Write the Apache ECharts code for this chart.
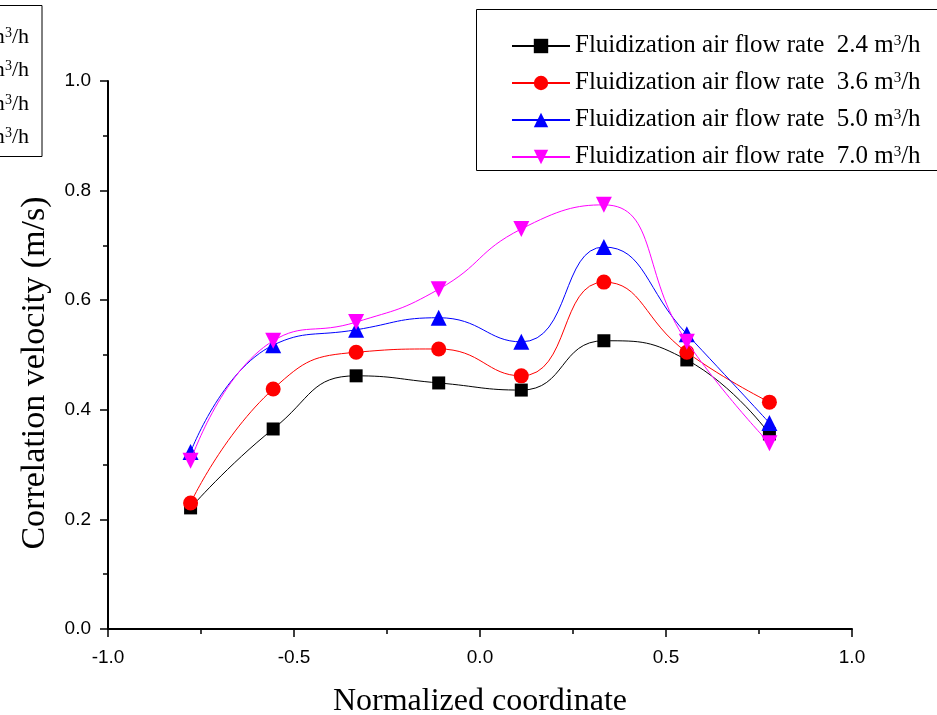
<!DOCTYPE html>
<html><head><meta charset="utf-8">
<script src="https://cdn.jsdelivr.net/npm/echarts@6/dist/echarts.min.js"></script>
<style>html,body{margin:0;padding:0;background:#fff}#c{width:937px;height:715px}</style>
</head><body><div id="c"></div>
<script>
const xValues = [-0.778, -0.556, -0.333, -0.111, 0.111, 0.333, 0.556, 0.778];
const v24 = [0.221, 0.365, 0.462, 0.449, 0.436, 0.526, 0.491, 0.356];
const v36 = [0.230, 0.438, 0.505, 0.511, 0.462, 0.633, 0.505, 0.414];
const v50 = [0.323, 0.518, 0.546, 0.568, 0.524, 0.697, 0.538, 0.376];
const v70 = [0.307, 0.526, 0.560, 0.620, 0.730, 0.774, 0.524, 0.339];
const flowRates = ['2.4', '3.6', '5.0', '7.0'];
const seriesNames = flowRates.map(r => 'Fluidization air flow rate  ' + r + ' m³/h');
const xTitle = 'Normalized coordinate';
const yTitle = 'Correlation velocity (m/s)';

const colors = ['#000000', '#ff0000', '#0000ff', '#ff00ff'];
const symbols = ['rect', 'circle', 'triangle', 'triangle'];
const rotates = [0, 0, 0, 180];
const sizes = [13, 15, 16, 16];
const allVals = [v24, v36, v50, v70];

const chart = echarts.init(document.getElementById('c'));
const serif = '"Liberation Serif", "Times New Roman", serif';
const sans = '"Liberation Sans", Arial, sans-serif';

function richName(name) {
  const parts = name.split('³');
  return '{n|' + parts[0] + '}{s|3}{n|' + parts[1] + '}';
}
const richStyle = {
  n: { fontFamily: serif, fontSize: 25, lineHeight: 24, color: '#000', verticalAlign: 'bottom' },
  s: { fontFamily: serif, fontSize: 15, lineHeight: 24, color: '#000', verticalAlign: 'top' }
};

const series = allVals.map((vals, i) => ({
  name: seriesNames[i],
  type: 'line',
  smooth: 0.5,
  data: xValues.map((x, k) => [x, vals[k]]),
  symbol: symbols[i],
  symbolRotate: rotates[i],
  symbolSize: sizes[i],
  showAllSymbol: true,
  lineStyle: { color: colors[i], width: 1 },
  itemStyle: { color: colors[i] },
  z: 2 + i
}));

const leftLegendTexts = seriesNames.map((n, i) => ({
  type: 'text', x: 29, y: 37 + i * 33.5,
  style: {
    text: richName(n),
    rich: {
      n: { fontFamily: serif, fontSize: 22, lineHeight: 22, fill: '#000', verticalAlign: 'bottom' },
      s: { fontFamily: serif, fontSize: 14, lineHeight: 22, fill: '#000', verticalAlign: 'top' }
    },
    align: 'right', verticalAlign: 'middle', textAlign: 'right', textVerticalAlign: 'middle'
  }
}));

chart.setOption({
  animation: false,
  backgroundColor: '#fff',
  grid: { left: 108, right: 85, top: 81, bottom: 86, containLabel: false, outerBoundsMode: 'none' },
  xAxis: {
    type: 'value', min: -1, max: 1, interval: 0.5,
    name: xTitle, nameLocation: 'middle', nameGap: 57,
    nameTextStyle: { fontFamily: serif, fontSize: 32, color: '#000' },
    axisLine: { onZero: false, lineStyle: { color: '#000', width: 2 } },
    axisTick: { inside: false, length: 8, lineStyle: { color: '#000', width: 1.5 } },
    minorTick: { show: true, splitNumber: 2, length: 5, lineStyle: { color: '#000', width: 1.5 } },
    axisLabel: { fontFamily: sans, fontSize: 19, color: '#000', margin: 19, formatter: v => v.toFixed(1) },
    splitLine: { show: false }
  },
  yAxis: {
    type: 'value', min: 0, max: 1, interval: 0.2,
    name: yTitle, nameLocation: 'middle', nameGap: 56, nameRotate: 90,
    nameTextStyle: { fontFamily: serif, fontSize: 34, color: '#000', padding: [0, 36, 0, 0] },
    axisLine: { onZero: false, lineStyle: { color: '#000', width: 2 } },
    axisTick: { inside: false, length: 8, lineStyle: { color: '#000', width: 1.5 } },
    minorTick: { show: true, splitNumber: 2, length: 5, lineStyle: { color: '#000', width: 1.5 } },
    axisLabel: { fontFamily: sans, fontSize: 19, color: '#000', margin: 17, formatter: v => v.toFixed(1) },
    splitLine: { show: false }
  },
  legend: {
    show: true, orient: 'vertical', left: 506, top: 28,
    itemWidth: 58, itemHeight: 18, itemGap: 12,
    formatter: richName,
    textStyle: { fontFamily: serif, fontSize: 25, color: '#000', rich: richStyle },
    data: seriesNames, selectedMode: false
  },
  graphic: [
    { type: 'rect', shape: { x: 476.5, y: 9.5, width: 470, height: 161 },
      style: { fill: null, stroke: '#000', lineWidth: 1 }, z: 0 },
    { type: 'rect', shape: { x: -20, y: 5.5, width: 62, height: 151 },
      style: { fill: null, stroke: '#000', lineWidth: 1 }, z: 0 }
  ].concat(leftLegendTexts),
  series: series
});
</script></body></html>
